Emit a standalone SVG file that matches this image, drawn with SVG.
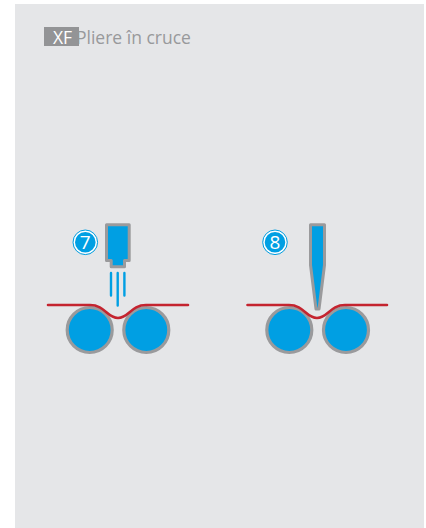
<svg xmlns="http://www.w3.org/2000/svg" width="426" height="528" viewBox="0 0 426 528">
<style>
.roll{fill:#009fe3;stroke:#9a9a9c;stroke-width:3.2}
.sheet{fill:none;stroke:#c4242f;stroke-width:2.6;stroke-linecap:round}
.tool{fill:#009fe3;stroke:#9a9a9c;stroke-width:3;stroke-linejoin:round}
.jet{stroke:#009fe3;stroke-width:2.4;stroke-linecap:round;fill:none}
.badge{fill:#009fe3;stroke:#fff;stroke-width:1.4}
.ring{fill:none;stroke:#009fe3;stroke-width:1}
.num{font-family:"Open Sans","Noto Sans",sans-serif;font-size:19px;fill:#fff;text-anchor:middle}
</style>
<rect width="426" height="528" fill="#fff"/>
<rect x="15" y="4" width="409" height="524" fill="#e5e6e8"/>
<g id="title">
<text x="76" y="43.500" font-family="'Open Sans','Noto Sans',sans-serif" font-size="17.500" fill="#98999b">Pliere în cruce</text>
<rect x="44" y="27" width="35" height="19" fill="#939496"/>
<text x="62.500" y="43.500" font-family="'Open Sans','Noto Sans',sans-serif" font-size="17.500" fill="#fff" text-anchor="middle">XF</text>
</g>
<g id="step7">
<circle class="roll" cx="89.700" cy="330" r="22.500"/>
<circle class="roll" cx="146.300" cy="330" r="22.500"/>
<path class="sheet" d="M48 305H90C105 305 107 318 118 318S131 305 146 305H188"/>
<path class="tool" d="M106.500 224.800H129.200V260.500H124.500V266.800H111.200V260.500H106.500Z"/>
<path class="jet" d="M111 273V295.500M117.700 273V305.500M124.400 273V295.500"/>
<circle class="badge" cx="85.300" cy="242.300" r="11"/>
<circle class="ring" cx="85.300" cy="242.300" r="12.300"/>
<text class="num" x="85.300" y="249">7</text>
</g>
<g id="step8">
<circle class="roll" cx="289.300" cy="330" r="22.500"/>
<circle class="roll" cx="346" cy="330" r="22.500"/>
<path class="sheet" d="M247.500 305H289C304 305 306 318 317 318S330 305 345 305H387"/>
<path class="tool" d="M310.500 224.800H324.500V265L319 309H316L310.500 265Z"/>
<circle class="badge" cx="275" cy="242.300" r="11"/>
<circle class="ring" cx="275" cy="242.300" r="12.300"/>
<text class="num" x="275" y="249">8</text>
</g>
</svg>
